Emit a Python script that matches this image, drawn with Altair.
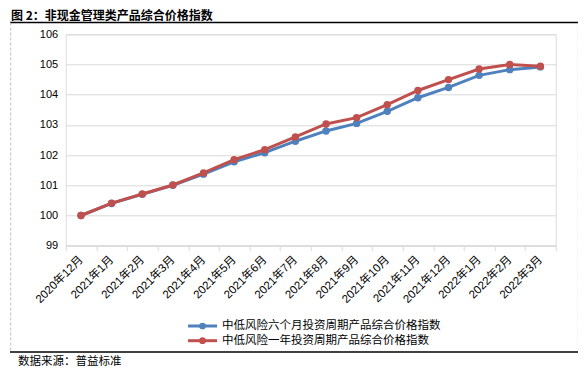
import altair as alt
import pandas as pd

# ---- data ----
months = ["2020年12月", "2021年1月", "2021年2月", "2021年3月", "2021年4月", "2021年5月",
          "2021年6月", "2021年7月", "2021年8月", "2021年9月", "2021年10月", "2021年11月",
          "2021年12月", "2022年1月", "2022年2月", "2022年3月"]
series_names = ["中低风险六个月投资周期产品综合价格指数", "中低风险一年投资周期产品综合价格指数"]
six_month = [100.0, 100.4, 100.7, 101.0, 101.37, 101.78, 102.08, 102.46, 102.8, 103.05,
             103.45, 103.9, 104.24, 104.64, 104.83, 104.92]
one_year = [100.0, 100.41, 100.71, 101.01, 101.41, 101.85, 102.18, 102.6, 103.03, 103.24,
            103.67, 104.14, 104.5, 104.85, 105.0, 104.94]
colors = ["#4F81BD", "#C0504D"]
y_ticks = [99, 100, 101, 102, 103, 104, 105, 106]
title_text = "图 2：非现金管理类产品综合价格指数"
source_text = "数据来源：普益标准"

rows = []
for name, vals in zip(series_names, [six_month, one_year]):
    for m, v in zip(months, vals):
        rows.append({"month": m, "series": name, "value": v})
df = pd.DataFrame(rows)

W, H = 490, 211.4
CJK = "Noto Sans CJK SC"
MIX = "Liberation Sans, Noto Sans CJK SC"

x_enc = alt.X("month:N", sort=months,
              scale=alt.Scale(type="band", paddingInner=0, paddingOuter=0),
              axis=alt.Axis(title=None, labelAngle=-45, labelAlign="right", labelBaseline="middle",
                            labelFont=MIX, labelFontSize=11.5, labelColor="#000",
                            labelPadding=7, tickBand="extent", tickSize=5, tickColor="#d9d9d9",
                            domainColor="#d9d9d9", grid=False, labelOverlap=False))
y_enc = alt.Y("value:Q", scale=alt.Scale(domain=[99, 106], nice=False, zero=False),
              axis=alt.Axis(title=None, values=y_ticks, ticks=False, domain=False,
                            gridColor="#d9d9d9", gridWidth=1, labelFont="Liberation Sans",
                            labelFontSize=11, labelColor="#000", labelPadding=8))
color_enc = alt.Color("series:N", scale=alt.Scale(domain=series_names, range=colors), legend=None)

layers = []
for name in series_names:
    layers.append(
        alt.Chart(df).transform_filter(alt.datum.series == name)
        .mark_line(strokeWidth=3, point=alt.OverlayMarkDef(size=55, filled=True, opacity=1))
        .encode(x=x_enc, y=y_enc, color=color_enc)
    )

one = pd.DataFrame({"a": [0]})
base = alt.Chart(one)
OX, OY = 65.7, 34.3  # plot origin in page coords


def px(v):
    return alt.value(v - OX)


def py(v):
    return alt.value(v - OY)


deco = [
    base.mark_rule(color="#000", strokeWidth=1.5).encode(x=px(10), x2=px(578.5), y=py(22.5)),
    base.mark_rule(color="#000", strokeWidth=1.5).encode(x=px(10), x2=px(578.5), y=py(352)),
    base.mark_rule(color="#c0c0c0", strokeWidth=1, strokeDash=[3, 2]).encode(x=px(10.7), y=py(22.5), y2=py(352)),
    base.mark_rule(color="#c0c0c0", strokeWidth=1, strokeDash=[3, 2]).encode(x=px(578.3), y=py(22.5), y2=py(352)),
    base.mark_text(align="left", baseline="middle", font=CJK, fontSize=12, fontWeight="bold", color="#000")
        .encode(x=px(11), y=py(16), text=alt.value(title_text)),
    base.mark_text(align="left", baseline="middle", font=CJK, fontSize=11.5, color="#000")
        .encode(x=px(18), y=py(361.5), text=alt.value(source_text)),
]

legend_rows_y = [326, 340.7]
for name, col, ly in zip(series_names, colors, legend_rows_y):
    deco.append(base.mark_rule(color=col, strokeWidth=3).encode(x=px(188), x2=px(217), y=py(ly)))
    deco.append(base.mark_point(color=col, filled=True, opacity=1, size=45).encode(x=px(202.5), y=py(ly)))
    deco.append(base.mark_text(align="left", baseline="middle", font=CJK, fontSize=11.5, color="#000")
                .encode(x=px(222), y=py(ly), text=alt.value(name)))

chart = alt.layer(*layers, *deco).properties(
    width=W, height=H,
    autosize=alt.AutoSizeParams(type="none"),
    padding={"left": OX - 8, "top": OY - 8, "right": 570 - (OX - 8) - W, "bottom": 363 - (OY - 8) - H},
).configure_view(stroke=None).configure(background="#ffffff")

chart.save("out.html", embed_options={"renderer": "svg", "actions": False})
